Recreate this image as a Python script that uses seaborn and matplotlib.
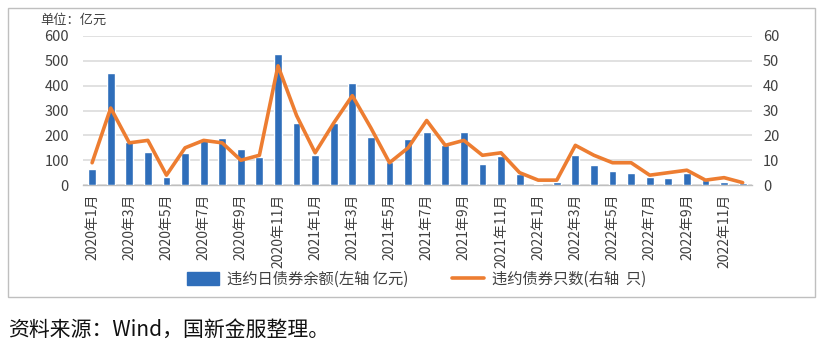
import numpy as np
import pandas as pd
import matplotlib
matplotlib.use("Agg")
import matplotlib.pyplot as plt
from matplotlib.patches import Rectangle, Patch
from matplotlib.lines import Line2D
import seaborn as sns

months = [
    "2020年1月", "2020年2月", "2020年3月", "2020年4月", "2020年5月", "2020年6月",
    "2020年7月", "2020年8月", "2020年9月", "2020年10月", "2020年11月", "2020年12月",
    "2021年1月", "2021年2月", "2021年3月", "2021年4月", "2021年5月", "2021年6月",
    "2021年7月", "2021年8月", "2021年9月", "2021年10月", "2021年11月", "2021年12月",
    "2022年1月", "2022年2月", "2022年3月", "2022年4月", "2022年5月", "2022年6月",
    "2022年7月", "2022年8月", "2022年9月", "2022年10月", "2022年11月", "2022年12月",
]
# 违约日债券余额（亿元，左轴）
balance = [65, 452, 172, 133, 33, 131, 180, 191, 147, 115, 528, 248,
           122, 248, 411, 194, 94, 187, 213, 161, 213, 84, 118, 46,
           5, 12, 120, 80, 58, 48, 32, 28, 50, 19, 12, 8]
# 违约债券只数（只，右轴）
counts = [9, 31, 17, 18, 4, 15, 18, 17, 10, 12, 48, 28,
          13, 25, 36, 23, 9, 15, 26, 16, 18, 12, 13, 5,
          2, 2, 16, 12, 9, 9, 4, 5, 6, 2, 3, 1]

BLUE = "#2F6EBA"
ORANGE = "#ED7D31"
GRID = "#D9D9D9"
TXT = "#404040"

sns.set_theme(style="white")
plt.rcParams["font.family"] = ["Noto Sans CJK SC", "DejaVu Sans"]

df = pd.DataFrame({"月份": months, "余额": balance, "只数": counts,
                   "序号": np.arange(len(months))})

fig = plt.figure(figsize=(8.2, 3.46), dpi=100)
fig.patch.set_facecolor("white")

# outer frame around chart and legend
fig.add_artist(Rectangle((8 / 820, 1 - 297 / 346), 807 / 820, 289 / 346,
                         transform=fig.transFigure, fill=False,
                         edgecolor="#BFBFBF", lw=1.0))

ax = fig.add_axes([0.101, 0.465, 0.816, 0.431])
sns.barplot(data=df, x="月份", y="余额", color=BLUE, width=0.42,
            saturation=1, ax=ax, zorder=3)
ax.set_xlim(-0.5, len(months) - 0.5)
ax.set_ylim(0, 600)
ax.set_yticks(np.arange(0, 601, 100))
ax.yaxis.grid(True, color=GRID, lw=1.1, zorder=0)
ax.set_axisbelow(True)
ax.set_xlabel("")
ax.set_ylabel("")
for s in ["top", "right", "left"]:
    ax.spines[s].set_visible(False)
ax.spines["bottom"].set_color("#BFBFBF")
ax.spines["bottom"].set_linewidth(1.0)

ax.set_xticks(np.arange(0, len(months), 2))
ax.set_xticklabels(months[::2], rotation=90, fontsize=10, color=TXT)
ax.set_xticks(np.arange(-0.5, len(months), 2), minor=True)
ax.tick_params(axis="x", which="major", length=0, pad=6)
ax.tick_params(axis="x", which="minor", length=5, width=1.0,
               color="#BFBFBF", direction="out")
ax.tick_params(axis="y", length=0, labelsize=10.5, labelcolor=TXT, pad=10)

ax2 = ax.twinx()
sns.lineplot(data=df, x="序号", y="只数", color=ORANGE, lw=2.6, ax=ax2,
             zorder=4)
ax2.set_ylim(0, 60)
ax2.set_yticks(np.arange(0, 61, 10))
ax2.set_xlim(-0.5, len(months) - 0.5)
ax2.set_ylabel("")
ax2.set_xlabel("")
ax2.grid(False)
for s in ["top", "right", "left", "bottom"]:
    ax2.spines[s].set_visible(False)
ax2.tick_params(axis="y", length=0, labelsize=10.5, labelcolor=TXT, pad=8)

fig.text(40 / 820, 1 - 20 / 346, "单位：亿元", fontsize=9.5, color=TXT,
         va="center", ha="left")

handles = [Patch(facecolor=BLUE, edgecolor=BLUE),
           Line2D([0], [0], color=ORANGE, lw=2.6)]
labels = ["违约日债券余额(左轴 亿元)", "违约债券只数(右轴  只)"]
fig.legend(handles, labels, loc="center", bbox_to_anchor=(0.508, 1 - 279 / 346),
           ncol=2, frameon=False, fontsize=11, labelcolor=TXT,
           handlelength=2.1, handleheight=0.9, columnspacing=2.9,
           handletextpad=0.5)

fig.text(8 / 820, 1 - 330 / 346, "资料来源：Wind，国新金服整理。",
         fontsize=15, color="#111111", va="center", ha="left")

fig.savefig("out.png", dpi=100)
